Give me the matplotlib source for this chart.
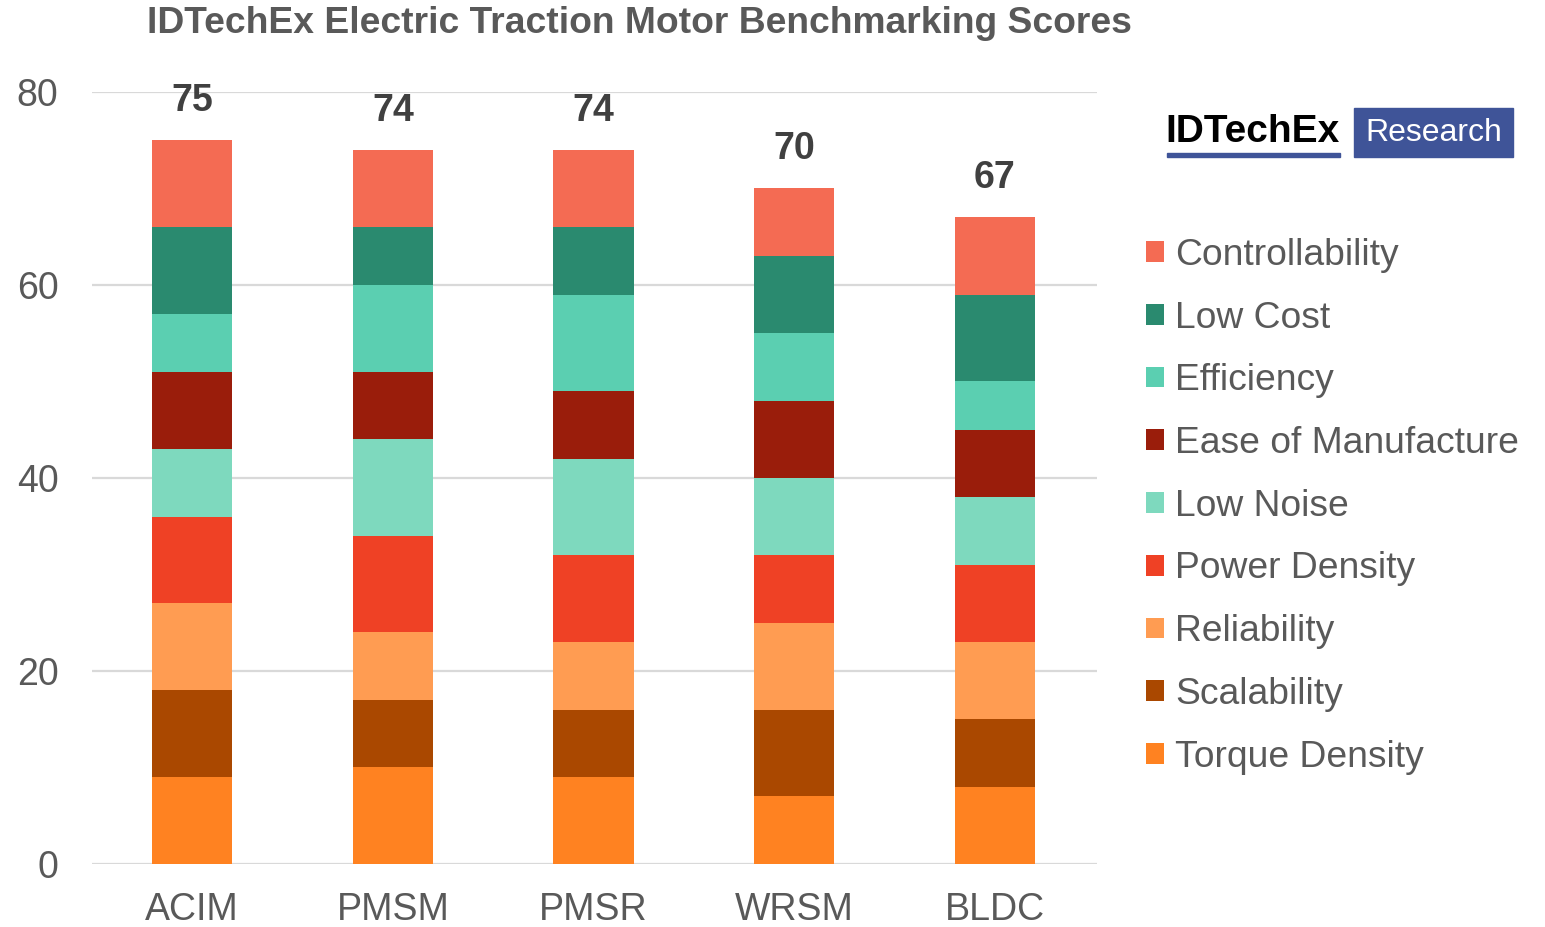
import numpy as np
import matplotlib
matplotlib.use("Agg")
import matplotlib.pyplot as plt
from matplotlib.patches import Rectangle

plt.rcParams['font.family'] = ['Liberation Sans', 'DejaVu Sans']

motors = ["ACIM", "PMSM", "PMSR", "WRSM", "BLDC"]

# stacked from bottom to top
criteria = ["Torque Density", "Scalability", "Reliability", "Power Density",
            "Low Noise", "Ease of Manufacture", "Efficiency", "Low Cost",
            "Controllability"]
torque_density = [9, 10, 9, 7, 8]
scalability = [9, 7, 7, 9, 7]
reliability = [9, 7, 7, 9, 8]
power_density = [9, 10, 9, 7, 8]
low_noise = [7, 10, 10, 8, 7]
ease_of_manufacture = [8, 7, 7, 8, 7]
efficiency = [6, 9, 10, 7, 5]
low_cost = [9, 6, 7, 8, 9]
controllability = [9, 8, 8, 7, 8]

colors = ["#FF8221", "#AA4800", "#FF9C52", "#EF4125", "#7ED9BE",
          "#9A1D0B", "#5BCFB1", "#2A8A6F", "#F46B53"]

series = [torque_density, scalability, reliability, power_density, low_noise,
          ease_of_manufacture, efficiency, low_cost, controllability]

fig = plt.figure(figsize=(15.45, 9.27), dpi=100)
ax = fig.add_axes([0.0595, 0.068, 0.6505, 0.8328])

x = np.arange(len(motors))
bottom = np.zeros(len(motors))
for name, vals, col in zip(criteria, series, colors):
    ax.bar(x, vals, 0.4, bottom=bottom, color=col, label=name, zorder=3)
    bottom += np.array(vals)

# totals above each stack
for xi, tot in zip(x, bottom):
    ax.text(xi, tot + 2.2, f"{int(tot)}", ha="center", va="bottom",
            fontsize=27, fontweight="bold", color="#404040", clip_on=False)

ax.set_xlim(-0.5, 4.51)
ax.set_ylim(0, 80)
ax.set_yticks(range(0, 81, 20))
ax.set_xticks(x)
ax.set_xticklabels(motors)
ax.tick_params(axis="both", length=0, labelsize=27, labelcolor="#595959")
ax.tick_params(axis="x", pad=20)
ax.tick_params(axis="y", pad=24)
ax.yaxis.grid(True, color="#D9D9D9", linewidth=1.6, zorder=0)
for s in ax.spines.values():
    s.set_visible(False)

handles, labels = ax.get_legend_handles_labels()
fig.legend(handles[::-1], labels[::-1], loc="upper left",
           bbox_to_anchor=(0.732, 0.7595), frameon=False,
           fontsize=26.8, labelcolor="#595959", labelspacing=0.745,
           handlelength=0.48, handleheight=0.48, handletextpad=0.3,
           borderaxespad=0)

fig.text(0.095, 0.975, "IDTechEx Electric Traction Motor Benchmarking Scores",
         fontsize=26.8, fontweight="bold", color="#595959", ha="left", va="center")

# IDTechEx Research logo
fig.text(0.7545, 0.858, "IDTechEx", fontsize=28, fontweight="bold",
         color="black", ha="left", va="center")
fig.add_artist(Rectangle((0.7555, 0.831), 0.112, 0.004,
                         transform=fig.transFigure, color="#3F5498"))
fig.add_artist(Rectangle((0.8765, 0.831), 0.103, 0.053,
                         transform=fig.transFigure, color="#3F5498"))
fig.text(0.928, 0.857, "Research", fontsize=23, color="white",
         ha="center", va="center")

fig.savefig("out.png", dpi=100)
